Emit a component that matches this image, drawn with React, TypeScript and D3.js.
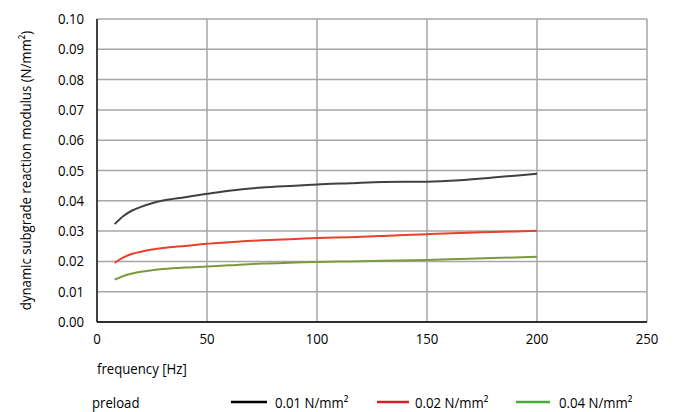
import React from "react";
import * as d3 from "d3";

const freq = [8, 12, 16, 20, 25, 30, 40, 50, 60, 75, 90, 100, 115, 130, 150, 165, 180, 200];
const preload001 = [0.0323, 0.0350, 0.0368, 0.0380, 0.0392, 0.0401, 0.0412, 0.0423, 0.0433, 0.0444, 0.0450, 0.0454, 0.0458, 0.0462, 0.0463, 0.0468, 0.0477, 0.0489];
const preload002 = [0.0195, 0.0213, 0.0225, 0.0232, 0.0239, 0.0244, 0.0251, 0.0258, 0.0263, 0.0270, 0.0274, 0.0277, 0.0280, 0.0284, 0.0290, 0.0294, 0.0297, 0.0301];
const preload004 = [0.0140, 0.0152, 0.0160, 0.0166, 0.0171, 0.0175, 0.0180, 0.0183, 0.0187, 0.0193, 0.0196, 0.0198, 0.0200, 0.0202, 0.0205, 0.0208, 0.0211, 0.0215];
const xTicks = [0, 50, 100, 150, 200, 250];
const yTicks = [0, 0.01, 0.02, 0.03, 0.04, 0.05, 0.06, 0.07, 0.08, 0.09, 0.1];
const seriesNames = ["0.01 N/mm²", "0.02 N/mm²", "0.04 N/mm²"];
const lineColors = ["#404040", "#e8402a", "#7b9a3c"];
const legendColors = ["#000000", "#d42028", "#4aa83a"];

const FONT = "'Open Sans', sans-serif";
const SX = 0.88;

function T({ x, y, anchor = "start", rotate = 0, children }: { x: number; y: number; anchor?: string; rotate?: number; children: React.ReactNode }) {
  return (
    <g transform={`translate(${x},${y}) rotate(${rotate}) scale(${SX},1)`}>
      <text x={0} y={0} textAnchor={anchor} fontSize={15} fill="#000">{children}</text>
    </g>
  );
}

export default function App() {
  const W = 675, H = 412;
  const x = d3.scaleLinear().domain([0, 250]).range([97, 647]);
  const y = d3.scaleLinear().domain([0, 0.1]).range([322, 19]);
  const series = [preload001, preload002, preload004];
  const line = d3.line<number>()
    .x((_, i) => x(freq[i]))
    .y((d) => y(d))
    .curve(d3.curveMonotoneX);
  const legendLineX = [231, 377, 516];
  const legendLineLen = [36, 32, 34];
  const legendTextX = [275, 415, 559];
  return (
    <svg width={W} height={H} style={{ position: "absolute", left: 0, top: 0, fontFamily: FONT }}>
      <rect width={W} height={H} fill="#fff" />
      {yTicks.map((t) => (
        <line key={"gy" + t} x1={x(0)} x2={x(250)} y1={y(t)} y2={y(t)} stroke="#a6a6a6" strokeWidth={1.5} />
      ))}
      {xTicks.map((t) => (
        <line key={"gx" + t} x1={x(t)} x2={x(t)} y1={y(0)} y2={y(0.1)} stroke="#a6a6a6" strokeWidth={1.5} />
      ))}
      <line x1={x(0)} x2={x(0)} y1={y(0)} y2={y(0.1)} stroke="#000" strokeWidth={1.3} />
      <line x1={x(0)} x2={x(250)} y1={y(0)} y2={y(0)} stroke="#000" strokeWidth={1.3} />
      {series.map((s, i) => (
        <path key={"s" + i} d={line(s) || ""} fill="none" stroke={lineColors[i]} strokeWidth={2} />
      ))}
      {yTicks.map((t) => (
        <T key={"ty" + t} x={84} y={y(t) + 5} anchor="end">{t.toFixed(2)}</T>
      ))}
      {xTicks.map((t) => (
        <T key={"tx" + t} x={x(t)} y={344} anchor="middle">{t}</T>
      ))}
      <T x={97} y={374}>frequency [Hz]</T>
      <T x={31} y={(y(0) + y(0.1)) / 2} anchor="middle" rotate={-90}>dynamic subgrade reaction modulus (N/mm²)</T>
      <T x={92} y={408}>preload</T>
      {seriesNames.map((n, i) => (
        <g key={"lg" + i}>
          <line x1={legendLineX[i]} x2={legendLineX[i] + legendLineLen[i]} y1={402} y2={402} stroke={legendColors[i]} strokeWidth={2.5} />
          <T x={legendTextX[i]} y={408}>{n}</T>
        </g>
      ))}
    </svg>
  );
}
